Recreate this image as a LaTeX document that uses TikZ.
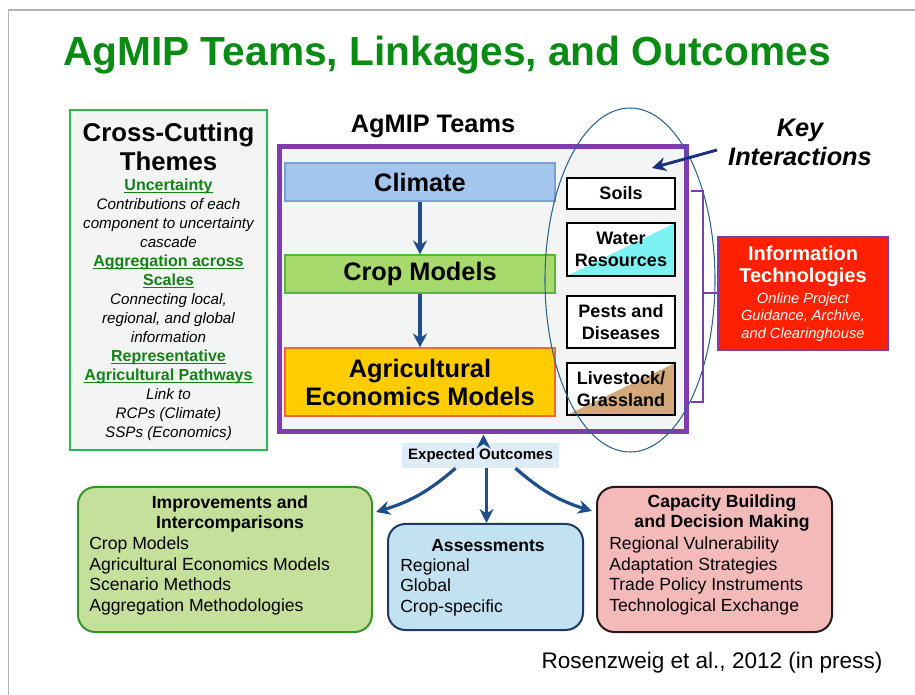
\documentclass[tikz,border=0pt]{standalone}
\usepackage{fontspec}
\setmainfont{Liberation Sans}
\usepackage{tikz}
\usetikzlibrary{shapes}
\usetikzlibrary{arrows,arrows.meta}
\usetikzlibrary{fit,calc}
\definecolor{titlegreen}{RGB}{10,140,20}
\definecolor{themegreen}{RGB}{40,185,80}
\definecolor{linkgreen}{RGB}{20,130,20}
\definecolor{agpurple}{RGB}{125,60,175}
\definecolor{panelgrey}{RGB}{243,245,245}
\definecolor{climfill}{RGB}{164,198,238}
\definecolor{climdraw}{RGB}{120,160,215}
\definecolor{cropfill}{RGB}{168,217,108}
\definecolor{cropdraw}{RGB}{90,180,60}
\definecolor{econfill}{RGB}{255,204,0}
\definecolor{econdraw}{RGB}{250,100,60}
\definecolor{waterfill}{RGB}{125,242,242}
\definecolor{grassfill}{RGB}{212,168,122}
\definecolor{itred}{RGB}{255,32,0}
\definecolor{ringblue}{RGB}{45,100,150}
\definecolor{flowblue}{RGB}{30,78,140}
\definecolor{keynavy}{RGB}{28,48,128}
\definecolor{outfill}{RGB}{222,236,248}
\definecolor{imprfill}{RGB}{197,224,155}
\definecolor{imprdraw}{RGB}{50,150,40}
\definecolor{assfill}{RGB}{195,226,241}
\definecolor{assdraw}{RGB}{32,56,100}
\definecolor{capfill}{RGB}{244,186,186}
\definecolor{capdraw}{RGB}{35,25,25}
\newcommand\agfont[2]{\fontsize{#1}{#2}\selectfont}
\newcommand\agtopic[1]{{\upshape\bfseries\agfont{12}{14.25}\color{linkgreen}%
	\setbox0\hbox{#1}\rlap{\rule[-1.7pt]{\wd0}{0.6pt}}\box0}}
\tikzset{
	basebox/.style = {inner sep=0pt, align=center, font=\bfseries},
	teambox/.style = {basebox, draw=agpurple, fill=panelgrey,
		line width=3.75pt},% cadre des equipes
	layer/.style = {basebox, line width=0.8pt, minimum width=202.5pt,
		font=\bfseries\agfont{19}{21}},% couche climat, culture, economie
	keybox/.style = {basebox, draw=black, fill=white, line width=1.5pt,
		minimum width=81pt, font=\bfseries\agfont{13.5}{16}},% interaction cle
	halffill/.style = {path picture={\fill[#1] (path picture bounding box.south west)
		-- (path picture bounding box.south east)
		-- (path picture bounding box.north east) -- cycle;}},% moitie coloree
	outbox/.style = {basebox, rounded corners=13pt, line width=1.5pt},% resultat attendu
	outhead/.style = {align=center, inner sep=0pt, font=\bfseries\agfont{13.2}{15.3}},
	outlist/.style = {align=left, inner sep=0pt, anchor=west, font=\agfont{13.2}{15.4}},
	flow/.style = {-{Stealth[length=10.5pt,width=10.5pt]}, draw=flowblue, line width=2.4pt},
	bracket/.style = {draw=agpurple, line width=1.5pt}
}
\begin{document}
\begin{tikzpicture}[x=0.75pt,y=-0.75pt]
	\useasboundingbox (0,0) rectangle (915,695);
	\draw[black!30, line width=0.8pt] (8.5,695) -- (8.5,10) -- (915,10);
	\node[font=\bfseries\agfont{30.5}{36}, text=titlegreen] (title) at (447,55)
		{AgMIP Teams, Linkages, and Outcomes};
	% themes transverses
	\node[basebox, draw=themegreen, fill=panelgrey, line width=1.6pt,
		fit={(70,110) (267,450)}] (themes) {};
	\node[font=\bfseries\agfont{19.3}{21.75}, align=center] (themehead) at (168.5,147)
		{Cross-Cutting\\Themes};
	\node[align=center, inner sep=0pt, font=\itshape\agfont{11.4}{14.25}] (themetext) at (168.5,309.5)
		{\agtopic{Uncertainty}\\
		Contributions of each\\component to uncertainty\\cascade\\
		\agtopic{Aggregation across}\\
		\agtopic{Scales}\\
		Connecting local,\\regional, and global\\information\\
		\agtopic{Representative}\\
		\agtopic{Agricultural Pathways}\\
		Link to\\RCPs (Climate)\\SSPs (Economics)};
	% equipes
	\node[font=\bfseries\agfont{19}{21}] (teamhead) at (433,126) {AgMIP Teams};
	\node[teambox, fit={(279,147) (686,432)}] (teams) {};
	\node[layer, draw=climdraw, fill=climfill, minimum height=28.5pt] (climate) at (420,182) {Climate};
	\node[layer, draw=cropdraw, fill=cropfill, minimum height=28.5pt] (crop) at (420,274) {Crop Models};
	\node[layer, draw=econdraw, fill=econfill, minimum height=51pt] (econ) at (420,382)
		{Agricultural\\Economics Models};
	\draw[flow] (climate) -- (crop);
	\draw[flow] (crop) -- (econ);
	\node[keybox, minimum height=23.25pt] (soils) at (621,193.5) {Soils};
	\node[keybox, halffill=waterfill, minimum height=39.75pt] (water) at (621,249.5) {Water\\Resources};
	\node[keybox, minimum height=39pt] (pests) at (621,322) {Pests and\\Diseases};
	\node[keybox, halffill=grassfill, minimum height=39pt] (grass) at (621,389) {Livestock/\\Grassland};
	\node[draw=ringblue, ellipse, line width=0.8pt, minimum width=127.5pt,
		minimum height=258pt, inner sep=0pt] (ring) at (630,280) {};
	% interactions cles
	\node[font=\bfseries\itshape\agfont{19}{21.75}, align=center] (key) at (800,142)
		{Key\\Interactions};
	\coordinate (keytail) at (717,150);
	\coordinate (keytip) at (652,168);
	\draw[-{Stealth[length=10.5pt,width=10.5pt]}, draw=keynavy, line width=2.2pt] (keytail) -- (keytip);
	% technologies de l'information
	\node[basebox, draw=agpurple, fill=itred, line width=1.5pt,
		fit={(718,237) (888,350)}] (info) {};
	\node[font=\bfseries\agfont{15}{16.5}, text=white, align=center] (infohead) at (803,266)
		{Information\\Technologies};
	\node[font=\itshape\agfont{11}{13.1}, text=white, align=center] (infotext) at (803,317)
		{Online Project\\Guidance, Archive,\\and Clearinghouse};
	\coordinate (brtop) at (691,191);
	\coordinate (brbot) at (691,402);
	\draw[bracket] (brtop) -- ++(12,0) -- ++(0,211) -- (brbot);
	\draw[bracket] (info.west) -- ++(-11.25pt,0pt);
	% resultats attendus
	\node[basebox, fill=outfill, minimum width=117.75pt, minimum height=18.75pt,
		font=\bfseries\agfont{11.3}{13}] (expected) at (480.5,455.5) {Expected Outcomes};
	\node[outbox, draw=imprdraw, fill=imprfill, fit={(78,487) (372,632)}] (impr) {};
	\node[outbox, draw=assdraw, fill=assfill, fit={(388,524) (583,630)}] (assess) {};
	\node[outbox, draw=capdraw, fill=capfill, fit={(597,487) (832,632)}] (capacity) {};
	\coordinate (uptail) at ($(expected.north)+(3,0)$);
	\coordinate (lefttail) at ($(expected.south)+(-25,0)$);
	\coordinate (midtail) at ($(expected.south)+(6,0)$);
	\coordinate (righttail) at ($(expected.south)+(35,0)$);
	\draw[flow] (uptail) -- (uptail |- teams.south);
	\draw[flow] (lefttail) to[bend left=12] ($(impr.north east)+(3,26)$);
	\draw[flow] (midtail) -- (midtail |- assess.north);
	\draw[flow] (righttail) to[bend right=12] ($(capacity.north west)+(-4,25)$);
	\node[outhead] (imprhead) at (230,514) {Improvements and\\Intercomparisons};
	\node[outlist] (imprlist) at (89,576)
		{Crop Models\\Agricultural Economics Models\\Scenario Methods\\Aggregation Methodologies};
	\node[outhead] (assesshead) at (488,546) {Assessments};
	\node[outlist] (assesslist) at (400,587) {Regional\\Global\\Crop-specific};
	\node[outhead] (caphead) at (722,513) {Capacity Building\\and Decision Making};
	\node[outlist] (caplist) at (609,576)
		{Regional Vulnerability\\Adaptation Strategies\\Trade Policy Instruments\\Technological Exchange};
	\node[font=\agfont{16.9}{20}] (cite) at (712,663) {Rosenzweig et al., 2012 (in press)};
\end{tikzpicture}
\end{document}
